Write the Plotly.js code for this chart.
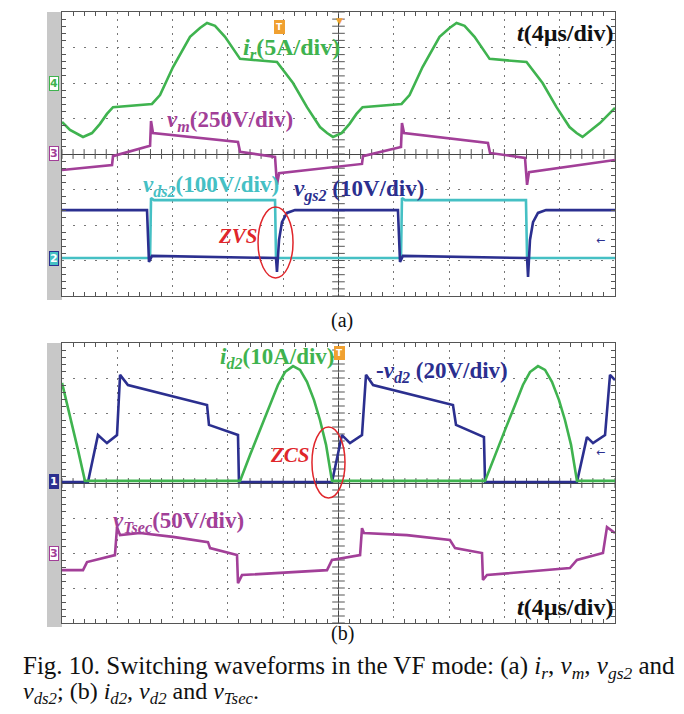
<!DOCTYPE html>
<html><head><meta charset="utf-8">
<script src="https://cdn.plot.ly/plotly-3.0.1.min.js"></script>
<style>html,body{margin:0;padding:0;background:#fff}#c{width:684px;height:714px}</style>
</head><body><div id="c"></div>
<script>
// time in microseconds (4 us/div), values in screen divisions
const irT = [0,0.58,1.52,2.17,2.75,3.25,3.69,6.51,7.09,8.03,9.26,9.98,10.49,11.07,11.79,12.88,15.55,16.71,17.72,18.66,19.17,19.60,20.22,20.80,21.30,21.74,24.56,25.14,26.08,27.31,28.03,28.54,29.12,29.84,30.93,33.60,34.76,35.77,36.71,37.22,37.65,38.91,40];
const irY = [0.90,0.68,0.48,0.59,0.85,1.13,1.32,1.41,1.66,2.45,3.30,3.55,3.69,3.61,3.30,2.68,2.59,2.00,1.32,0.76,0.59,0.48,0.59,0.85,1.13,1.32,1.41,1.66,2.45,3.30,3.55,3.69,3.61,3.30,2.68,2.59,2.00,1.32,0.76,0.59,0.48,0.87,1.30];

const vmT = [0,3.62,3.69,6.37,6.44,6.58,12.73,12.88,15.41,15.55,15.70,21.70,21.77,24.52,24.59,24.74,30.81,30.96,33.49,33.64,33.78,40];
const vmY = [-0.45,-0.31,-0.06,0.23,0.93,0.59,0.34,0.06,-0.08,-0.87,-0.54,-0.28,-0.06,0.20,0.87,0.59,0.31,0.03,-0.11,-0.87,-0.51,-0.17];

const vgsT = [0,6.15,6.29,6.51,15.48,15.55,15.70,15.91,16.27,16.85,24.30,24.45,24.66,33.64,33.71,33.85,34.07,34.43,35.01,40];
const vgsY = [-1.58,-1.58,-3.04,-2.87,-2.93,-3.32,-2.42,-1.92,-1.66,-1.58,-1.58,-3.04,-2.87,-2.93,-3.46,-2.42,-1.92,-1.66,-1.58,-1.58];

const vdsT = [0,6.37,6.44,6.65,15.41,15.48,24.52,24.59,24.81,33.56,33.64,40];
const vdsY = [-2.93,-2.93,-1.24,-1.30,-1.30,-2.93,-2.93,-1.24,-1.30,-1.30,-2.93,-2.93];

const id2T = [0,0.58,1.16,1.66,12.88,13.60,14.32,15.05,15.62,16.13,16.71,17.22,17.72,18.23,18.66,19.10,19.53,30.60,31.32,32.04,32.77,33.34,33.85,34.43,34.94,35.44,35.95,36.38,36.82,37.25,40];
const id2Y = [2.86,1.94,0.94,0.06,0.06,0.80,1.51,2.23,2.80,3.17,3.34,3.23,2.89,2.37,1.80,1.09,0.06,0.06,0.80,1.51,2.23,2.80,3.17,3.34,3.23,2.89,2.37,1.80,1.09,0.06,0.06];

const vd2T = [0,1.88,2.60,3.25,3.98,4.20,4.77,10.49,10.63,12.73,12.80,19.53,20.25,20.83,21.70,21.99,22.50,28.28,28.50,30.52,30.60,37.25,37.97,38.41,39.28,39.64,40];
const vd2Y = [0.03,0.03,1.37,1.14,1.37,3.09,2.80,2.23,1.66,1.37,0.03,0.03,1.37,1.14,1.37,3.09,2.80,2.23,1.66,1.31,0.03,0.03,1.31,1.14,1.37,3.09,2.94];

const vtT = [0,1.52,1.81,3.83,3.98,4.20,5.64,8.03,10.56,10.71,12.66,12.73,13.02,19.17,19.53,21.56,21.70,21.84,24.95,28.06,28.43,30.38,30.45,30.74,36.74,37.25,39.13,39.42,40];
const vtY = [-2.49,-2.49,-2.26,-2.06,-1.26,-1.49,-1.43,-1.54,-1.69,-1.86,-2.06,-2.86,-2.63,-2.49,-2.20,-2.06,-1.29,-1.43,-1.49,-1.63,-1.86,-2.00,-2.77,-2.63,-2.43,-2.20,-2.00,-1.26,-1.43];

const GREEN='#3fb34f', PURPLE='#a23f98', CYAN='#45c0c4', NAVY='#2b2f8f', RED='#e0262b';
const W=684, H=714;
const px = v => v/W, py = v => 1 - v/H;

function tr(x,y,color,ax,ay,w){return {x:x,y:y,mode:'lines',line:{color:color,width:w||2.6},xaxis:ax,yaxis:ay,hoverinfo:'skip',showlegend:false};}

const data = [
  tr(irT,irY,GREEN,'x','y'),
  tr(vmT,vmY,PURPLE,'x','y'),
  tr(vdsT,vdsY,CYAN,'x','y'),
  tr(vgsT,vgsY,NAVY,'x','y'),
  tr(vtT,vtY,PURPLE,'x2','y2'),
  tr(vd2T,vd2Y,NAVY,'x2','y2'),
  tr(id2T,id2Y,GREEN,'x2','y2')
];

// graticule tick crosses on the centre lines
const hx=[], hy=[], vx=[], vy=[];
for(let i=0;i<=50;i++){hx.push(i*0.8); hy.push(0);}
for(let i=0;i<=40;i++){vx.push(20); vy.push(-4+i*0.2);}
[['x','y'],['x2','y2']].forEach(a=>{
  data.unshift({x:hx,y:hy,mode:'markers',marker:{symbol:'line-ns',size:7,line:{width:1,color:'#555'}},xaxis:a[0],yaxis:a[1],hoverinfo:'skip',showlegend:false});
  data.unshift({x:vx,y:vy,mode:'markers',marker:{symbol:'line-ew',size:9,line:{width:1,color:'#555'}},xaxis:a[0],yaxis:a[1],hoverinfo:'skip',showlegend:false});
});

const xdom=[62/W,615/W];
function xa(anchor){return {domain:xdom,anchor:anchor,range:[0,40],dtick:4,showgrid:true,gridcolor:'#777',griddash:'2px,5px',gridwidth:1,
  showline:true,linecolor:'#555',linewidth:1,mirror:'allticks',ticks:'',showticklabels:false,zeroline:false,fixedrange:true,
  minor:{dtick:0.8,ticks:'inside',ticklen:4,tickcolor:'#555',showgrid:false}};}
function ya(anchor,dom){return {domain:dom,anchor:anchor,range:[-4,4],dtick:1,showgrid:true,gridcolor:'#777',griddash:'2px,9px',gridwidth:1,
  showline:true,linecolor:'#555',linewidth:1,mirror:'allticks',ticks:'',showticklabels:false,zeroline:true,zerolinecolor:'#444',zerolinewidth:1,fixedrange:true,
  minor:{dtick:0.2,ticks:'inside',ticklen:4,tickcolor:'#555',showgrid:false}};}

const FONT='Liberation Serif, Times New Roman, serif';
function lab(text,x,y,color,size,opts){return Object.assign({text:text,x:px(x),y:py(y),xref:'paper',yref:'paper',showarrow:false,xanchor:'center',yanchor:'middle',font:{family:FONT,size:size||20,color:color}},opts||{});}
function chan(t,y,col,bg,fc){return {text:'<b>'+t+'</b>',x:px(54),y:py(y),xref:'paper',yref:'paper',showarrow:false,xanchor:'center',yanchor:'middle',font:{family:'DejaVu Sans',size:11,color:fc},bgcolor:bg,bordercolor:col,borderwidth:1,borderpad:0};}

const annotations=[
  lab('<b><i>i<sub>r</sub></i>(5A/div)</b>',291,49,GREEN,24),
  lab('<b><i>t</i>(4µs/div)</b>',565,33,'#111',24),
  lab('<b><i>v<sub>m</sub></i>(250V/div)</b>',230,121,PURPLE,23),
  lab('<b><i>v<sub>ds2</sub></i>(100V/div)</b>',211,186,CYAN,23),
  lab('<b><i>v<sub>gs2</sub></i> (10V/div)</b>',359,191,NAVY,23),
  lab('<b><i>ZVS</i></b>',238,236,RED,21),
  lab('<b><i>i<sub>d2</sub></i>(10A/div)</b>',277,358,GREEN,23),
  lab('<b>-<i>v<sub>d2</sub></i> (20V/div)</b>',442,372,NAVY,23),
  lab('<b><i>ZCS</i></b>',290,455,RED,21),
  lab('<b><i>v<sub>Tsec</sub></i>(50V/div)</b>',178,522,PURPLE,23),
  lab('<b><i>t</i>(4µs/div)</b>',565,607,'#111',24),
  lab('(a)',342,320,'#111',20),
  lab('(b)',342,633,'#111',20),
  lab('Fig. 10. Switching waveforms in the VF mode: (a) <i>i<sub>r</sub></i>, <i>v<sub>m</sub></i>, <i>v<sub>gs2</sub></i> and',21,667,'#111',25,{xanchor:'left'}),
  lab('<i>v<sub>ds2</sub></i>; (b) <i>i<sub>d2</sub></i>, <i>v<sub>d2</sub></i> and <i>v<sub>Tsec</sub></i>.',21,693,'#111',24,{xanchor:'left'}),
  chan('4',83,GREEN,'#fff',GREEN),
  chan('3',153,PURPLE,'#fff',PURPLE),
  chan('2',258,NAVY,CYAN,'#fff'),
  chan('1',481,NAVY,NAVY,'#fff'),
  chan('3',553,PURPLE,'#fff',PURPLE),
  {text:'<b>T</b>',x:px(279),y:py(20),xref:'paper',yref:'paper',showarrow:false,font:{family:'DejaVu Sans',size:9,color:'#fff'},bgcolor:'#f0a030',bordercolor:'#f0a030',borderpad:1},
  {text:'<b>T</b>',x:px(339),y:py(353),xref:'paper',yref:'paper',showarrow:false,font:{family:'DejaVu Sans',size:9,color:'#fff'},bgcolor:'#f0a030',bordercolor:'#f0a030',borderpad:1},
  {text:'▼',x:px(339),y:py(14),xref:'paper',yref:'paper',showarrow:false,font:{family:'DejaVu Sans',size:9,color:'#f0a030'}},
  {text:'←',x:px(607),y:py(240),xref:'paper',yref:'paper',showarrow:false,font:{family:'DejaVu Sans',size:11,color:NAVY}},
  {text:'←',x:px(607),y:py(452),xref:'paper',yref:'paper',showarrow:false,font:{family:'DejaVu Sans',size:11,color:NAVY}}
];

const shapes=[
  {type:'rect',xref:'paper',yref:'paper',x0:px(47),x1:px(62),y0:py(300),y1:py(12),fillcolor:'#c8c8c8',line:{width:0},layer:'below'},
  {type:'rect',xref:'paper',yref:'paper',x0:px(47),x1:px(62),y0:py(627),y1:py(343),fillcolor:'#c8c8c8',line:{width:0},layer:'below'},
  {type:'line',xref:'x',yref:'y',x0:20,x1:20,y0:-4,y1:4,line:{color:'#444',width:1},layer:'below'},
  {type:'line',xref:'x2',yref:'y2',x0:20,x1:20,y0:-4,y1:4,line:{color:'#444',width:1},layer:'below'},
  {type:'circle',xref:'x',yref:'y',x0:14.18,x1:16.71,y0:-3.49,y1:-1.49,line:{color:RED,width:1.5}},
  {type:'circle',xref:'x2',yref:'y2',x0:18.08,x1:20.47,y0:-0.43,y1:1.6,line:{color:RED,width:1.5}}
];

const layout={width:W,height:H,margin:{l:0,r:0,t:0,b:0},paper_bgcolor:'#fff',plot_bgcolor:'#fff',showlegend:false,
  xaxis:xa('y'),yaxis:ya('x',[1-296/H,1-12/H]),
  xaxis2:xa('y2'),yaxis2:ya('x2',[1-623/H,1-343/H]),
  annotations:annotations,shapes:shapes};

Plotly.newPlot('c',data,layout,{staticPlot:true,displayModeBar:false});
</script></body></html>
